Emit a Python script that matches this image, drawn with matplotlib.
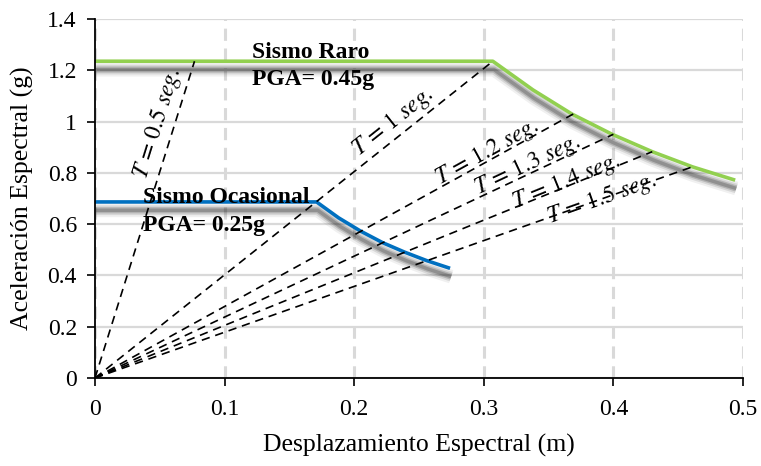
import numpy as np
import matplotlib
matplotlib.use("Agg")
import matplotlib.pyplot as plt
import matplotlib.patheffects as pe

plt.rcParams['font.family'] = ['Liberation Serif', 'DejaVu Serif']
plt.rcParams['mathtext.fontset'] = 'stix'

# espectro sismo raro (PGA 0.45g): desplazamiento (m) y aceleracion (g)
raro_sd = [0.0, 0.307, 0.338, 0.368, 0.399, 0.430, 0.461, 0.494]
raro_sa = [1.236, 1.236, 1.124, 1.030, 0.951, 0.883, 0.824, 0.772]

# espectro sismo ocasional (PGA 0.25g)
ocas_sd = [0.0, 0.171, 0.188, 0.205, 0.222, 0.239, 0.256, 0.274]
ocas_sa = [0.687, 0.687, 0.625, 0.573, 0.528, 0.491, 0.458, 0.428]

# rectas de periodo constante, desde el origen hasta el espectro raro
periodos = ['0.5', '1', '1.2', '1.3', '1.4', '1.5']
per_sd_fin = [0.0768, 0.307, 0.369, 0.400, 0.430, 0.461]
per_sa_fin = [1.236, 1.236, 1.030, 0.951, 0.883, 0.824]

# etiquetas de periodo: posicion y angulo
etq_x = [0.0486, 0.230, 0.303, 0.334, 0.364, 0.391]
etq_y = [0.995, 1.000, 0.880, 0.829, 0.766, 0.700]
etq_rot = [72.7, 38.5, 28.9, 25.2, 22.1, 19.5]

fig = plt.figure(figsize=(7.61, 4.66), dpi=100)
ax = fig.add_axes([0.1248, 0.1888, 0.8515, 0.770])

sombra = [pe.SimpleLineShadow(offset=(0.8, -6.0), shadow_color='black', alpha=0.06, linewidth=10),
          pe.SimpleLineShadow(offset=(0.8, -6.0), shadow_color='black', alpha=0.10, linewidth=7),
          pe.SimpleLineShadow(offset=(0.8, -6.0), shadow_color='black', alpha=0.16, linewidth=4.5),
          pe.SimpleLineShadow(offset=(0.8, -6.0), shadow_color='black', alpha=0.20, linewidth=2.5),
          pe.Normal()]

for i in range(len(periodos)):
    ax.plot([0, per_sd_fin[i]], [0, per_sa_fin[i]], color='black', lw=1.2,
            dashes=(5, 3.5), zorder=3)
    ax.text(etq_x[i], etq_y[i], r'$T\,=\,%s\ seg.$' % periodos[i], rotation=etq_rot[i],
            rotation_mode='anchor', ha='center', va='center', fontsize=17, zorder=4)

ax.plot(raro_sd, raro_sa, color='#92D050', lw=2.6, zorder=2, path_effects=sombra,
        solid_capstyle='butt')
ax.plot(ocas_sd, ocas_sa, color='#0070C0', lw=2.6, zorder=2, path_effects=sombra,
        solid_capstyle='butt')

ax.text(0.121, 1.248, 'Sismo Raro', fontsize=17, fontweight='bold', va='baseline', zorder=5)
ax.text(0.121, 1.143, 'PGA= 0.45g', fontsize=17, fontweight='bold', va='baseline', zorder=5)
ax.text(0.037, 0.683, 'Sismo Ocasional', fontsize=17, fontweight='bold', va='baseline', zorder=5)
ax.text(0.037, 0.573, 'PGA= 0.25g', fontsize=17, fontweight='bold', va='baseline', zorder=5)

ax.set_xlim(0, 0.5)
ax.set_ylim(0, 1.4)
ax.set_xticks(np.arange(0, 0.51, 0.1))
ax.set_xticklabels(['0', '0.1', '0.2', '0.3', '0.4', '0.5'])
ax.set_yticks(np.arange(0, 1.41, 0.2))
ax.set_yticklabels(['0', '0.2', '0.4', '0.6', '0.8', '1', '1.2', '1.4'])
ax.tick_params(labelsize=17, length=6, width=1.2, direction='out')
ax.tick_params(axis='x', pad=9)
ax.tick_params(axis='y', pad=7)
ax.yaxis.grid(True, color='#d9d9d9', lw=1.6, zorder=0)
ax.xaxis.grid(True, color='#d9d9d9', lw=2.2, linestyle=(0, (4, 2.5)), zorder=0)
ax.set_axisbelow(True)
for s in ['top', 'right']:
    ax.spines[s].set_visible(False)
for s in ['left', 'bottom']:
    ax.spines[s].set_linewidth(1.3)
    ax.spines[s].set_zorder(6)

ax.set_xlabel('Desplazamiento Espectral (m)', fontsize=18.5, labelpad=10)
ax.set_ylabel('Aceleración Espectral (g)', fontsize=18.5, labelpad=10)

fig.savefig('out.png', dpi=100)
